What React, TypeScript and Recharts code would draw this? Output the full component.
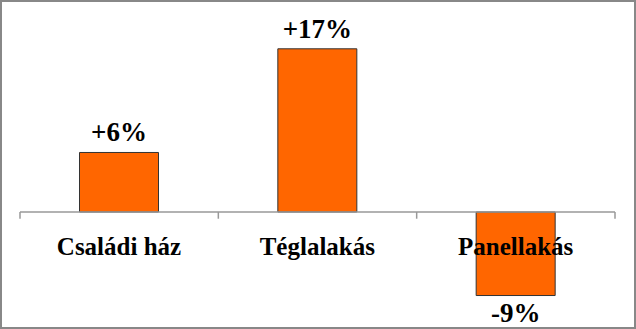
import { BarChart, Bar, XAxis, YAxis, ReferenceLine, LabelList } from 'recharts';

const categories = ['Családi ház', 'Téglalakás', 'Panellakás'];
const changes = [6.2, 17.0, -8.7];
const changeLabels = ['+6%', '+17%', '-9%'];

const data = categories.map((name, i) => ({ name, value: changes[i], label: changeLabels[i] }));

const FONT = '"Liberation Serif", "Times New Roman", serif';

const CategoryLabel = (props: any) => {
  const { x, y, width, height, index } = props;
  const v = changes[index];
  const zeroY = v >= 0 ? Math.max(y, y + height) : Math.min(y, y + height);
  return (
    <text x={x + width / 2} y={zeroY + 34} textAnchor="middle" dominantBaseline="central"
      fontFamily={FONT} fontWeight="bold" fontSize={25} fill="#000">
      {categories[index]}
    </text>
  );
};

const ValueLabel = (props: any) => {
  const { x, y, width, height, index } = props;
  const v = changes[index];
  const top = Math.min(y, y + height);
  const bottom = Math.max(y, y + height);
  const ty = v >= 0 ? top - 20 : bottom + 17;
  return (
    <text x={x + width / 2} y={ty} textAnchor="middle" dominantBaseline="central"
      fontFamily={FONT} fontWeight="bold" fontSize={27} fill="#000">
      {changeLabels[index]}
    </text>
  );
};

export default function App() {
  return (
    <div style={{ position: 'absolute', left: 0, top: 0, width: 636, height: 329, boxSizing: 'border-box', border: '2px solid #888', background: '#fff' }}>
      <BarChart width={632} height={325} data={data} margin={{ top: 18, right: 19, bottom: 19, left: 18 }} barCategoryGap="30%">
        <XAxis dataKey="name" hide />
        <YAxis hide domain={[-10, 20]} />
        <ReferenceLine y={0} stroke="#999" strokeWidth={1.5} />
        {categories.map((c) => (
          <ReferenceLine key={c} segment={[{ x: c, y: 0 }, { x: c, y: -0.7 }]} position="start" stroke="#999" strokeWidth={1.5} />
        ))}
        <ReferenceLine segment={[{ x: categories[2], y: 0 }, { x: categories[2], y: -0.7 }]} position="end" stroke="#999" strokeWidth={1.5} />
        <Bar dataKey="value" fill="#FF6600" stroke="#333" strokeWidth={1} isAnimationActive={false}>
          <LabelList dataKey="label" content={<ValueLabel />} />
          <LabelList dataKey="name" content={<CategoryLabel />} />
        </Bar>
      </BarChart>
    </div>
  );
}
